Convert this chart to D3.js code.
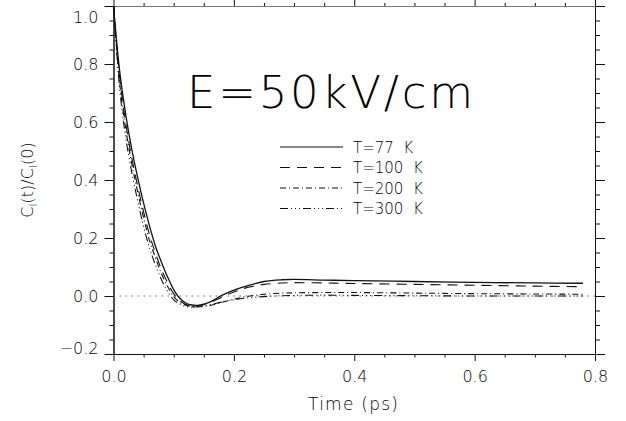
<!DOCTYPE html>
<html>
<head>
<meta charset="utf-8">
<script src="https://cdn.jsdelivr.net/npm/d3@7"></script>
<style>
  body { margin: 0; background: #fff; }
  svg { display: block; }
  text { font-family: "DejaVu Sans", sans-serif; font-weight: 200; fill: #000; }
</style>
</head>
<body>
<svg id="chart" width="626" height="421"></svg>
<script>
const w = 626;
const h = 421;

// time axis (ps)
const times = [0, 0.01, 0.02, 0.03, 0.04, 0.05, 0.06, 0.07, 0.08, 0.09, 0.10, 0.11, 0.12, 0.13, 0.14,
  0.15, 0.16, 0.18, 0.20, 0.22, 0.25, 0.28, 0.30, 0.35, 0.40, 0.50, 0.60, 0.70, 0.78];

const t77 = [1.0, 0.78, 0.63, 0.51, 0.41, 0.32, 0.24, 0.17, 0.115, 0.065, 0.022, -0.008, -0.024, -0.031, -0.032,
  -0.028, -0.021, 0.002, 0.020, 0.034, 0.050, 0.056, 0.057, 0.055, 0.053, 0.050, 0.047, 0.045, 0.044];
const t100 = [1.0, 0.76, 0.60, 0.48, 0.38, 0.29, 0.21, 0.145, 0.09, 0.045, 0.008, -0.016, -0.029, -0.034, -0.034,
  -0.030, -0.023, -0.004, 0.014, 0.028, 0.040, 0.045, 0.046, 0.045, 0.043, 0.040, 0.037, 0.034, 0.032];
const t200 = [1.0, 0.74, 0.58, 0.46, 0.36, 0.27, 0.19, 0.13, 0.075, 0.033, -0.002, -0.022, -0.032, -0.036, -0.037,
  -0.036, -0.033, -0.022, -0.011, -0.002, 0.006, 0.010, 0.011, 0.012, 0.012, 0.010, 0.008, 0.007, 0.006];
const t300 = [1.0, 0.72, 0.55, 0.43, 0.33, 0.24, 0.165, 0.105, 0.055, 0.015, -0.013, -0.028, -0.036, -0.038, -0.037,
  -0.034, -0.030, -0.021, -0.013, -0.007, -0.002, 0.001, 0.002, 0.003, 0.002, 0.001, 0.0, 0.0, 0.0];

const seriesNames = ["T=77  K", "T=100  K", "T=200  K", "T=300  K"];
const seriesValues = [t77, t100, t200, t300];
const dashes = ["none", "10,7", "6,3,1,3", "8,3,1,3,1,3,1,3"];

const xTicks = [0, 0.2, 0.4, 0.6, 0.8];
const yTicks = [-0.2, 0, 0.2, 0.4, 0.6, 0.8, 1.0];

const plotLeft = 113.5, plotRight = 595, plotTop = 6, plotBottom = 354;

const svg = d3.select('#chart');
svg.append('rect').attr('width', w).attr('height', h).attr('fill', '#fff');

const xScale = d3.scaleLinear().domain([0, 0.8]).range([plotLeft, plotRight]);
const yScale = d3.scaleLinear().domain([-0.2, 1.0]).range([plotBottom, plotTop]);

const xMinor = d3.range(0, 0.8001, 0.05).filter(v => Math.abs(v / 0.2 - Math.round(v / 0.2)) > 0.01);
const yMinor = d3.range(-0.2, 1.0001, 0.05).filter(v => Math.abs(v / 0.2 - Math.round(v / 0.2)) > 0.01);

function addAxis(axis, transform) {
  const g = svg.append('g').attr('transform', transform).call(axis);
  g.selectAll('path, line').attr('stroke', '#111');
  g.selectAll('text').style('font-size', '16px').attr('fill', '#000');
  return g;
}

// bottom
addAxis(d3.axisBottom(xScale).tickValues(xTicks).tickSize(7).tickSizeOuter(0).tickPadding(10)
  .tickFormat(d3.format('.1f')), `translate(0,${plotBottom})`);
addAxis(d3.axisBottom(xScale).tickValues(xMinor).tickSize(3.5).tickSizeOuter(0).tickFormat(''),
  `translate(0,${plotBottom})`);
// top
addAxis(d3.axisTop(xScale).tickValues(xTicks).tickSize(6).tickSizeOuter(0).tickFormat(''),
  `translate(0,${plotTop})`).select('.domain').attr('stroke', '#777');
addAxis(d3.axisTop(xScale).tickValues(xMinor).tickSize(3).tickSizeOuter(0).tickFormat(''),
  `translate(0,${plotTop})`).select('.domain').attr('stroke', '#777');
// left
const yAx = addAxis(d3.axisLeft(yScale).tickValues(yTicks).tickSize(9).tickSizeOuter(0).tickPadding(6)
  .tickFormat(d => d < 0 ? '\u22120.2' : d3.format('.1f')(d)), `translate(${plotLeft},0)`);
// end labels sit inside the frame height, as in the reference
yAx.selectAll('.tick text')
  .attr('dy', d => d === 1.0 ? '1.0em' : (d === -0.2 ? '-0.05em' : '0.32em'));
addAxis(d3.axisLeft(yScale).tickValues(yMinor).tickSize(4).tickSizeOuter(0).tickFormat(''),
  `translate(${plotLeft},0)`);
// right
addAxis(d3.axisRight(yScale).tickValues(yTicks).tickSize(10).tickSizeOuter(0).tickFormat(''),
  `translate(${plotRight},0)`);
addAxis(d3.axisRight(yScale).tickValues(yMinor).tickSize(5).tickSizeOuter(0).tickFormat(''),
  `translate(${plotRight},0)`);

// zero reference line
svg.append('line')
  .attr('x1', plotLeft).attr('x2', plotRight)
  .attr('y1', yScale(0)).attr('y2', yScale(0))
  .attr('stroke', '#666').attr('stroke-width', 1)
  .attr('stroke-dasharray', '1.5,4.5');

const line = d3.line()
  .x((d, i) => xScale(times[i]))
  .y(d => yScale(d))
  .curve(d3.curveCatmullRom.alpha(0.5));

seriesValues.forEach((vals, i) => {
  svg.append('path')
    .attr('d', line(vals))
    .attr('fill', 'none')
    .attr('stroke', '#111')
    .attr('stroke-width', i === 0 ? 1.3 : 1.1)
    .attr('stroke-dasharray', dashes[i]);
});

// legend
const legendY = [147, 167.5, 188, 208.5];
seriesNames.forEach((name, i) => {
  svg.append('line')
    .attr('x1', 280).attr('x2', 343)
    .attr('y1', legendY[i]).attr('y2', legendY[i])
    .attr('stroke', '#111').attr('stroke-width', 1.1)
    .attr('stroke-dasharray', dashes[i]);
  svg.append('text')
    .attr('x', 353).attr('y', legendY[i] + 5.5)
    .style('font-size', '15px')
    .style('white-space', 'pre')
    .attr('xml:space', 'preserve')
    .text(name);
});

// big annotation
svg.append('text')
  .attr('x', 187).attr('y', 108)
  .style('font-size', '45px')
  .attr('textLength', 286)
  .attr('lengthAdjust', 'spacing')
  .text('E=50kV/cm');

// axis titles
svg.append('text')
  .attr('x', 353).attr('y', 410)
  .attr('text-anchor', 'middle')
  .style('font-size', '17px')
  .attr('textLength', 90)
  .attr('lengthAdjust', 'spacing')
  .text('Time (ps)');

const yl = svg.append('text')
  .attr('transform', 'translate(33,180) rotate(-90)')
  .attr('text-anchor', 'middle')
  .style('font-size', '16px');
yl.append('tspan').text('C');
yl.append('tspan').attr('dy', 4).style('font-size', '11px').text('l');
yl.append('tspan').attr('dy', -4).text('(t)/C');
yl.append('tspan').attr('dy', 4).style('font-size', '11px').text('l');
yl.append('tspan').attr('dy', -4).text('(0)');
</script>
</body>
</html>
